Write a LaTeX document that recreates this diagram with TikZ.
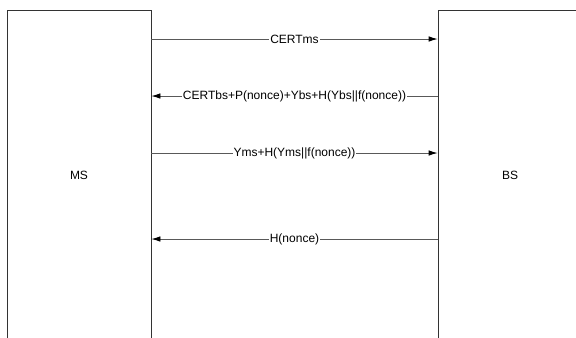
\documentclass[tikz,border=0pt]{standalone}
\usepackage{fontspec}
\setmainfont{Liberation Sans}
\usetikzlibrary{arrows.meta}
\begin{document}
\begin{tikzpicture}[x=1bp,y=-1bp,
  party/.style={draw=black!80, line width=0.8bp, minimum width=144bp,
    minimum height=330bp, inner sep=0pt,
    font=\fontsize{12bp}{14bp}\selectfont},
  msg/.style={draw=black!65, line width=0.8bp,
    -{Latex[length=9bp,width=5.5bp,black]}},
  lbl/.style={fill=white, inner xsep=1bp, inner ysep=1bp,
    font=\fontsize{12bp}{14bp}\selectfont}]
\useasboundingbox (0,0) rectangle (576,337);
\clip (0,0) rectangle (576,337);
% the two parties
\node[party] (ms) at (79,175) {MS};
\node[party] (bs) at (510,175) {BS};
% message rows
\coordinate (r1) at (0,39);
\coordinate (r2) at (0,96);
\coordinate (r3) at (0,153);
\coordinate (r4) at (0,239);
% message exchange
\draw[msg] (ms.east |- r1) -- node[lbl] {CERTms} (bs.west |- r1);
\draw[msg] (bs.west |- r2) -- node[lbl] {CERTbs+P(nonce)+Ybs+H(Ybs||f(nonce))} (ms.east |- r2);
\draw[msg] (ms.east |- r3) -- node[lbl] {Yms+H(Yms||f(nonce))} (bs.west |- r3);
\draw[msg] (bs.west |- r4) -- node[lbl] {H(nonce)} (ms.east |- r4);
\end{tikzpicture}
\end{document}
